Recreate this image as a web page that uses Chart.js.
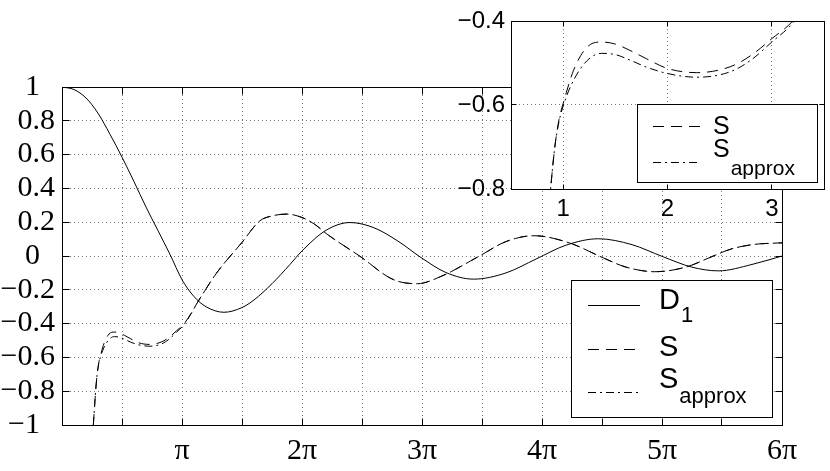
<!DOCTYPE html>
<html>
<head>
<meta charset="utf-8">
<script src="https://cdn.jsdelivr.net/npm/chart.js@4/dist/chart.umd.min.js"></script>
<style>
html, body { margin: 0; padding: 0; background: #fff; }
#wrap { position: relative; width: 830px; height: 471px; }
#mainChart { position: absolute; left: 0; top: 0; }
#insetChart { position: absolute; left: 430px; top: 0; }
</style>
</head>
<body>
<div id="wrap">
  <canvas id="mainChart" width="830" height="471"></canvas>
  <canvas id="insetChart" width="400" height="240"></canvas>
</div>
<script>
// values, x in radians
const d1X = [0, 0.314, 0.628, 0.942, 1.257, 1.571, 1.885, 2.199, 2.513, 2.827, 3.142, 3.456, 3.770, 4.241, 4.712,
  5.027, 5.498, 5.969, 6.283, 6.912, 7.540, 8.168, 8.796, 9.425, 10.053, 10.776, 11.624, 12.409, 13.195,
  14.043, 14.923, 15.708, 16.493, 17.184, 18.064, 18.850];
const d1Y = [1.0, 0.985, 0.935, 0.845, 0.72, 0.585, 0.44, 0.29, 0.15, 0.01, -0.14, -0.24, -0.30, -0.333, -0.305,
  -0.26, -0.164, -0.05, 0.03, 0.152, 0.198, 0.167, 0.088, -0.013, -0.098, -0.137, -0.10, -0.018, 0.064,
  0.102, 0.067, -0.002, -0.066, -0.088, -0.05, 0.0];

const sX = [0.82, 0.85, 0.88, 0.92, 0.96, 1.01, 1.10, 1.23, 1.37, 1.50, 1.64, 1.80, 2.00, 2.28, 2.60, 2.80,
  3.00, 3.20, 3.62, 4.05, 4.71, 5.18, 5.50, 5.89, 6.28, 6.60, 6.94, 7.79, 8.67, 9.30, 9.90, 10.93, 11.62, 12.35,
  13.29, 14.14, 14.77, 15.52, 16.34, 17.00, 17.50, 18.10, 18.85];
const sY = [-1.0, -0.90, -0.80, -0.70, -0.635, -0.588, -0.517, -0.462, -0.450, -0.455, -0.470, -0.490, -0.513,
  -0.523, -0.509, -0.482, -0.442, -0.400, -0.248, -0.100, 0.080, 0.208, 0.237, 0.248, 0.228, 0.190, 0.129, 0.0,
  -0.139, -0.164, -0.123, 0.0, 0.085, 0.120, 0.077, -0.008, -0.066, -0.093, -0.065, -0.005, 0.04, 0.068, 0.078];
const sApproxY = [-1.0, -0.90, -0.80, -0.70, -0.64, -0.595, -0.541, -0.494, -0.477, -0.480, -0.493, -0.510, -0.525,
  -0.534, -0.521, -0.493, -0.450, -0.405, -0.248, -0.100, 0.080, 0.208, 0.237, 0.248, 0.228, 0.190, 0.129, 0.0,
  -0.139, -0.164, -0.123, 0.0, 0.085, 0.120, 0.077, -0.008, -0.066, -0.093, -0.065, -0.005, 0.04, 0.068, 0.078];

const seriesNames = ['D', 'S', 'S'];
const seriesSubs = ['1', '', 'approx'];

const mainXTickPi = [0, 0.5, 1, 1.5, 2, 2.5, 3, 3.5, 4, 4.5, 5, 5.5, 6];
const mainXLabels = ['', '', 'π', '', '2π', '', '3π', '', '4π', '', '5π', '', '6π'];
const mainYTicks = [-1, -0.8, -0.6, -0.4, -0.2, 0, 0.2, 0.4, 0.6, 0.8, 1];
const mainYLabels = ['−1  ', '−0.8', '−0.6', '−0.4', '−0.2', '0  ', '0.2', '0.4', '0.6', '0.8', '1  '];

const insetXTicks = [1, 2, 3];
const insetXLabels = ['1', '2', '3'];
const insetYTicks = [-0.8, -0.6, -0.4];
const insetYLabels = ['−0.8', '−0.6', '−0.4'];

const DASH = [11, 7];
const DASHDOT = [8, 4, 2, 4];

function pts(xs, ys) {
    return xs.map((x, i) => ({ x: x, y: ys[i] }));
}

function line(label, sub, data, dash) {
    return {
        label: label + sub,
        name: label,
        sub: sub,
        data: data,
        borderColor: '#000',
        borderWidth: 1,
        borderDash: dash,
        pointRadius: 0,
        fill: false,
        cubicInterpolationMode: 'monotone'
    };
}

const al = p => Math.round(p - 0.5) + 0.5;

// full box with inward ticks on all four sides
function frameTicks(len) {
    return {
        id: 'frameTicks',
        afterDatasetsDraw(chart) {
            const { ctx, chartArea: a, scales: { x, y } } = chart;
            const L = al(a.left), R = al(a.right), T = al(a.top), B = al(a.bottom);
            ctx.save();
            ctx.strokeStyle = '#000';
            ctx.lineWidth = 1;
            ctx.setLineDash([]);
            ctx.beginPath();
            x.ticks.forEach(t => {
                const px = al(x.getPixelForValue(t.value));
                ctx.moveTo(px, B); ctx.lineTo(px, B - len);
                ctx.moveTo(px, T); ctx.lineTo(px, T + len);
            });
            y.ticks.forEach(t => {
                const py = al(y.getPixelForValue(t.value));
                ctx.moveTo(L, py); ctx.lineTo(L + len, py);
                ctx.moveTo(R, py); ctx.lineTo(R - len, py);
            });
            ctx.stroke();
            ctx.strokeRect(L, T, R - L, B - T);
            ctx.restore();
        }
    };
}

function boxLegend(cfg) {
    return {
        id: 'boxLegend',
        afterDraw(chart) {
            const ctx = chart.ctx;
            const [bx, by, bw, bh] = cfg.box;
            ctx.save();
            ctx.fillStyle = '#fff';
            ctx.fillRect(bx, by, bw, bh);
            ctx.strokeStyle = '#000';
            ctx.lineWidth = 1;
            ctx.strokeRect(bx + 0.5, by + 0.5, bw, bh);
            chart.data.datasets.forEach((ds, i) => {
                const r = cfg.rows[i];
                ctx.setLineDash(ds.borderDash || []);
                ctx.beginPath();
                ctx.moveTo(cfg.lineX[0], r.lineY + 0.5);
                ctx.lineTo(cfg.lineX[1], r.lineY + 0.5);
                ctx.stroke();
                ctx.setLineDash([]);
                ctx.fillStyle = '#000';
                ctx.textAlign = 'left';
                ctx.textBaseline = 'alphabetic';
                ctx.font = cfg.font;
                ctx.fillText(ds.name, cfg.textX, r.base);
                if (ds.sub) {
                    const w = ctx.measureText(ds.name).width;
                    ctx.font = cfg.subFont;
                    ctx.fillText(ds.sub, cfg.textX + w + 1, r.subBase);
                }
            });
            ctx.restore();
        }
    };
}

const whiteArea = {
    id: 'whiteArea',
    beforeDraw(chart) {
        const a = chart.chartArea;
        chart.ctx.save();
        chart.ctx.fillStyle = '#fff';
        chart.ctx.fillRect(a.left, a.top, a.right - a.left, a.bottom - a.top);
        chart.ctx.restore();
    }
};

const SERIF = "'Liberation Serif', 'Times New Roman', serif";
const SANS = "'Liberation Sans', Arial, sans-serif";
const gridStyle = { color: '#7a7a7a', lineWidth: 1, drawTicks: false };
const borderStyle = { display: false, dash: [1, 3] };

new Chart(document.getElementById('mainChart').getContext('2d'), {
    type: 'line',
    data: {
        datasets: [
            line(seriesNames[0], seriesSubs[0], pts(d1X, d1Y), []),
            line(seriesNames[1], seriesSubs[1], pts(sX, sY), DASH),
            line(seriesNames[2], seriesSubs[2], pts(sX, sApproxY), DASHDOT)
        ]
    },
    options: {
        responsive: false,
        devicePixelRatio: 1,
        animation: false,
        layout: { padding: { left: 0, right: 48, top: 87, bottom: 0 } },
        plugins: { legend: { display: false }, tooltip: { enabled: false } },
        scales: {
            x: {
                type: 'linear',
                min: 0,
                max: 6 * Math.PI,
                afterBuildTicks: s => { s.ticks = mainXTickPi.map(v => ({ value: v * Math.PI })); },
                afterFit: s => { s.height = 46; },
                grid: gridStyle,
                border: borderStyle,
                ticks: {
                    autoSkip: false,
                    maxRotation: 0,
                    padding: 8,
                    color: '#000',
                    font: { family: SERIF, size: 30 },
                    callback: (v, i) => mainXLabels[i]
                }
            },
            y: {
                type: 'linear',
                min: -1,
                max: 1,
                afterBuildTicks: s => { s.ticks = mainYTicks.map(v => ({ value: v })); },
                afterFit: s => { s.width = 62; },
                grid: gridStyle,
                border: borderStyle,
                ticks: {
                    autoSkip: false,
                    padding: 7,
                    color: '#000',
                    font: { family: SERIF, size: 30 },
                    callback: (v, i) => mainYLabels[i]
                }
            }
        }
    },
    plugins: [frameTicks(7), boxLegend({
        box: [571, 280, 201, 137],
        lineX: [588, 640],
        textX: 659,
        font: '29px ' + SANS,
        subFont: '22px ' + SANS,
        rows: [
            { lineY: 305, base: 309, subBase: 322 },
            { lineY: 349, base: 356, subBase: 0 },
            { lineY: 392, base: 388, subBase: 403 }
        ]
    })]
});

new Chart(document.getElementById('insetChart').getContext('2d'), {
    type: 'line',
    data: {
        datasets: [
            line(seriesNames[1], seriesSubs[1], pts(sX, sY), DASH),
            line(seriesNames[2], seriesSubs[2], pts(sX, sApproxY), DASHDOT)
        ]
    },
    options: {
        responsive: false,
        devicePixelRatio: 1,
        animation: false,
        layout: { padding: { left: 0, right: 6, top: 21, bottom: 0 } },
        plugins: { legend: { display: false }, tooltip: { enabled: false } },
        scales: {
            x: {
                type: 'linear',
                min: 0.5,
                max: 3.5,
                afterBuildTicks: s => { s.ticks = insetXTicks.map(v => ({ value: v })); },
                afterFit: s => { s.height = 51; },
                grid: gridStyle,
                border: borderStyle,
                ticks: {
                    autoSkip: false,
                    maxRotation: 0,
                    padding: 6,
                    color: '#000',
                    font: { family: SANS, size: 24 },
                    callback: (v, i) => insetXLabels[i]
                }
            },
            y: {
                type: 'linear',
                min: -0.8,
                max: -0.4,
                afterBuildTicks: s => { s.ticks = insetYTicks.map(v => ({ value: v })); },
                afterFit: s => { s.width = 81; },
                grid: gridStyle,
                border: borderStyle,
                ticks: {
                    autoSkip: false,
                    padding: 6,
                    color: '#000',
                    font: { family: SANS, size: 24 },
                    callback: (v, i) => insetYLabels[i]
                }
            }
        }
    },
    plugins: [whiteArea, frameTicks(5), boxLegend({
        box: [207, 104, 180, 78],
        lineX: [223, 271],
        textX: 283,
        font: '25px ' + SANS,
        subFont: '21px ' + SANS,
        rows: [
            { lineY: 126, base: 134, subBase: 0 },
            { lineY: 162, base: 157, subBase: 175 }
        ]
    })]
});
</script>
</body>
</html>
